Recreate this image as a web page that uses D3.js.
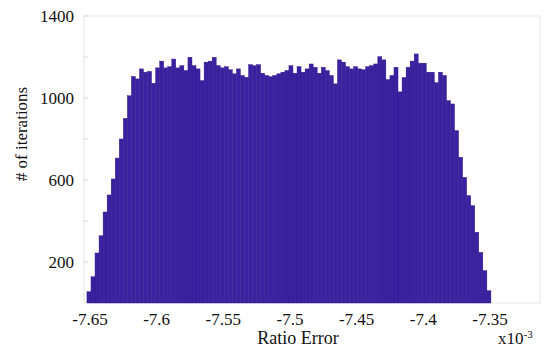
<!DOCTYPE html>
<html>
<head>
<meta charset="utf-8">
<script src="https://cdn.jsdelivr.net/npm/d3@7"></script>
<style>
  body { margin: 0; background: #fff; }
  svg text { font-family: "Liberation Serif", "DejaVu Serif", serif; fill: #111; }
</style>
</head>
<body>
<svg id="chart" width="547" height="349"></svg>
<script>
// histogram counts, 100 bins
var counts = [
  55, 128, 244, 328, 444, 527, 605, 707, 800, 901, 1011,
  1105, 1093, 1142, 1126, 1130, 1072, 1147, 1180, 1147, 1153,
  1190, 1147, 1158, 1134, 1199, 1158, 1142, 1085, 1175, 1180,
  1199, 1158, 1147, 1153, 1138, 1118, 1142, 1110, 1101, 1163,
  1158, 1163, 1121, 1110, 1104, 1110, 1118, 1126, 1134, 1158,
  1121, 1153, 1126, 1142, 1166, 1150, 1121, 1150, 1134, 1110,
  1069, 1186, 1175, 1153, 1142, 1153, 1142, 1138, 1153, 1158,
  1166, 1202, 1186, 1090, 1110, 1150, 1030, 1100, 1150, 1180,
  1215, 1170, 1170, 1126, 1126, 1075, 1126, 1110,
  987, 971, 841, 711, 613, 524, 475, 345, 247, 158, 60
];
var binStart = -7.6523;   // x10^-3
var binWidth = 0.00303;

var xTicks = [-7.65, -7.6, -7.55, -7.5, -7.45, -7.4, -7.35];
var yTicks = [200, 400, 600, 800, 1000, 1200, 1400];
var yLabels = [200, 600, 1000, 1400];

var svg = d3.select("#chart");
var plotLeft = 84, plotRight = 540, plotTop = 16, plotBottom = 303;

var x = d3.scaleLinear().domain([-7.6545, -7.3125]).range([plotLeft, plotRight]);
var y = d3.scaleLinear().domain([0, 1400]).range([plotBottom, plotTop]);

// frame
svg.append("rect")
  .attr("x", plotLeft).attr("y", plotTop)
  .attr("width", plotRight - plotLeft).attr("height", plotBottom - plotTop)
  .attr("fill", "none").attr("stroke", "#e6e6e6").attr("stroke-width", 1);

// bars
svg.append("g").selectAll("rect")
  .data(counts)
  .enter().append("rect")
  .attr("x", function (d, i) { return x(binStart + i * binWidth); })
  .attr("width", function (d, i) { return x(binStart + (i + 1) * binWidth) - x(binStart + i * binWidth); })
  .attr("y", function (d) { return y(d); })
  .attr("height", function (d) { return y(0) - y(d); })
  .attr("fill", "#3a21a0")
  .attr("stroke", "#2f1888")
  .attr("stroke-width", 0.4);

// y axis ticks (inside) + labels
var yAxis = svg.append("g");
yAxis.selectAll("line")
  .data(yTicks)
  .enter().append("line")
  .attr("x1", plotLeft).attr("x2", plotLeft + 4)
  .attr("y1", function (d) { return y(d); })
  .attr("y2", function (d) { return y(d); })
  .attr("stroke", "#d8d8d8");
yAxis.selectAll("text")
  .data(yLabels)
  .enter().append("text")
  .attr("x", plotLeft - 10)
  .attr("y", function (d) { return y(d) + 6; })
  .attr("text-anchor", "end")
  .attr("font-size", 17)
  .text(function (d) { return d; });

// x axis labels
svg.append("g").selectAll("text")
  .data(xTicks)
  .enter().append("text")
  .attr("x", function (d) { return x(d); })
  .attr("y", 325)
  .attr("text-anchor", "middle")
  .attr("font-size", 17)
  .text(function (d) { return d; });

svg.append("text")
  .attr("x", 298).attr("y", 344)
  .attr("text-anchor", "middle")
  .attr("font-size", 18)
  .text("Ratio Error");

var mult = svg.append("text")
  .attr("x", 498).attr("y", 344)
  .attr("font-size", 17);
mult.append("tspan").text("x10");
mult.append("tspan").attr("dy", -6).attr("font-size", 11).text("-3");

svg.append("text")
  .attr("transform", "translate(27,134) rotate(-90)")
  .attr("text-anchor", "middle")
  .attr("font-size", 17)
  .text("# of iterations");
</script>
</body>
</html>
